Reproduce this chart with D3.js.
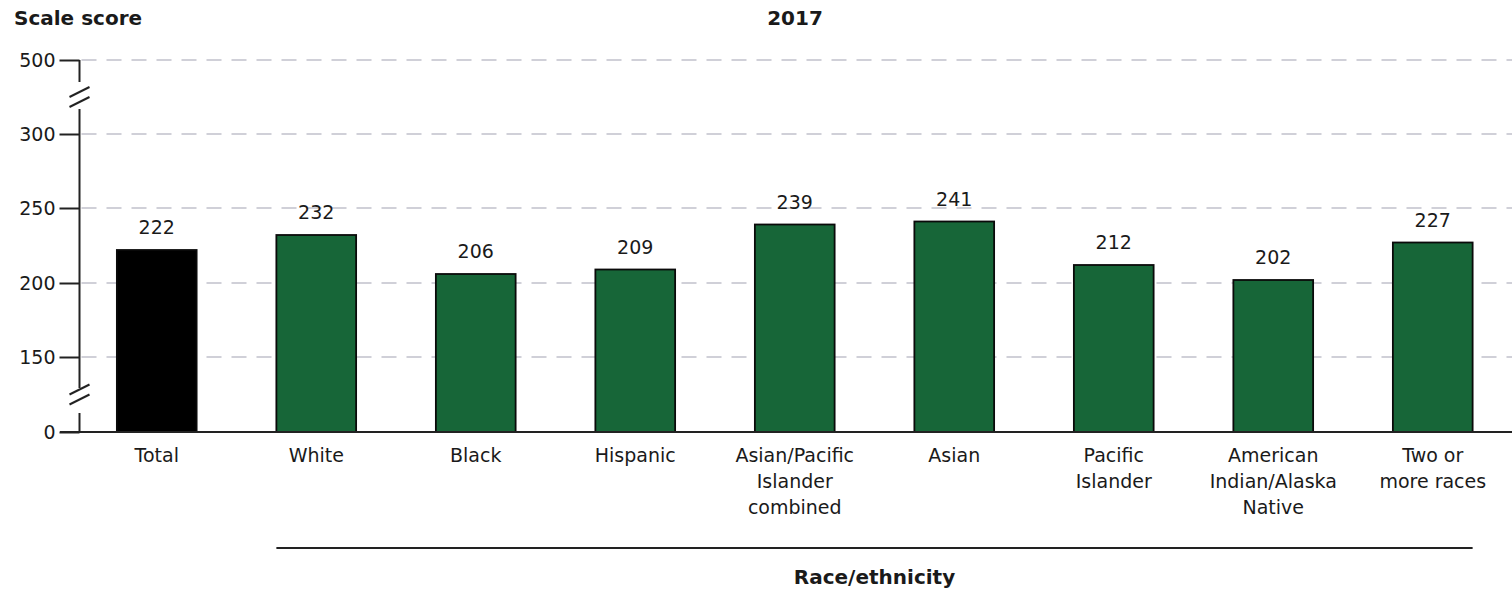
<!DOCTYPE html>
<html>
<head>
    <meta charset="utf-8">
    <script src="https://d3js.org/d3.v7.min.js"></script>
    <style>
        html, body { margin: 0; padding: 0; background: #fff; }
        text { font-family: "DejaVu Sans", sans-serif; fill: #1a1a1a; }
        .bold { font-weight: bold; }
    </style>
</head>
<body>
<div id="chart"></div>
<script>
    // chart data
    const categories = ["Total", "White", "Black", "Hispanic", "Asian/Pacific Islander combined",
        "Asian", "Pacific Islander", "American Indian/Alaska Native", "Two or more races"];
    const labelLines = [["Total"], ["White"], ["Black"], ["Hispanic"], ["Asian/Pacific", "Islander", "combined"],
        ["Asian"], ["Pacific", "Islander"], ["American", "Indian/Alaska", "Native"], ["Two or", "more races"]];
    const scores = [222, 232, 206, 209, 239, 241, 212, 202, 227];
    const tickValues = [0, 150, 200, 250, 300, 500];

    const width = 1512, height = 591;
    const svg = d3.select("#chart").append("svg")
        .attr("width", width)
        .attr("height", height);

    // broken axis: each tick gets an equal step
    const y = d3.scaleLinear()
        .domain(tickValues)
        .range([432, 357, 283, 208, 134, 60]);

    const x = d3.scaleBand()
        .domain(categories)
        .range([77, 1512.5])
        .paddingInner(0.5)
        .paddingOuter(0.25);

    const axisX = 79.5;

    // dashed grid lines
    svg.append("g")
        .selectAll("line")
        .data(tickValues.filter(d => d > 0))
        .join("line")
        .attr("x1", axisX)
        .attr("x2", width)
        .attr("y1", d => y(d))
        .attr("y2", d => y(d))
        .attr("stroke", "#d0d0d8")
        .attr("stroke-width", 2)
        .attr("stroke-dasharray", "15,10")
        .attr("stroke-dashoffset", -2);

    // bars
    svg.append("g")
        .selectAll("rect")
        .data(scores)
        .join("rect")
        .attr("x", (d, i) => x(categories[i]))
        .attr("y", d => y(d))
        .attr("width", x.bandwidth())
        .attr("height", d => y(0) - y(d))
        .attr("fill", (d, i) => i === 0 ? "#000" : "#176638")
        .attr("stroke", "#0a0a0a")
        .attr("stroke-width", 1.8);

    // value labels
    svg.append("g")
        .selectAll("text")
        .data(scores)
        .join("text")
        .attr("x", (d, i) => x(categories[i]) + x.bandwidth() / 2)
        .attr("y", d => y(d) - 16)
        .attr("text-anchor", "middle")
        .attr("font-size", 19)
        .text(d => d);

    // y axis
    const yAxis = d3.axisLeft(y).tickValues(tickValues).tickSize(20).tickPadding(4);
    const gy = svg.append("g")
        .attr("transform", `translate(${axisX},0)`)
        .call(yAxis);
    gy.select(".domain").remove();
    gy.selectAll(".tick line").attr("stroke", "#222").attr("stroke-width", 2);
    gy.selectAll(".tick text")
        .attr("font-size", 19)
        .attr("font-family", "DejaVu Sans")
        .attr("fill", "#1a1a1a");

    // axis line with breaks
    const breaks = [[300, 500], [0, 150]];
    const segs = [[y(500), 82], [109, 388], [413, y(0)]];
    svg.append("g")
        .selectAll("line")
        .data(segs)
        .join("line")
        .attr("x1", axisX).attr("x2", axisX)
        .attr("y1", d => d[0]).attr("y2", d => d[1])
        .attr("stroke", "#222").attr("stroke-width", 2);
    breaks.forEach(b => {
        const cy = (y(b[0]) + y(b[1])) / 2;
        [-5, 5].forEach(off => {
            svg.append("line")
                .attr("x1", axisX - 10).attr("x2", axisX + 10)
                .attr("y1", cy + off + 5).attr("y2", cy + off - 5)
                .attr("stroke", "#222").attr("stroke-width", 2);
        });
    });

    // baseline
    svg.append("line")
        .attr("x1", 60).attr("x2", width)
        .attr("y1", y(0)).attr("y2", y(0))
        .attr("stroke", "#222").attr("stroke-width", 2);

    // category labels
    const cat = svg.append("g")
        .selectAll("text")
        .data(categories)
        .join("text")
        .attr("x", d => x(d) + x.bandwidth() / 2)
        .attr("y", 462)
        .attr("text-anchor", "middle")
        .attr("font-size", 19);
    cat.each(function (d, i) {
        d3.select(this).selectAll("tspan")
            .data(labelLines[i])
            .join("tspan")
            .attr("x", x(d) + x.bandwidth() / 2)
            .attr("dy", (t, j) => j === 0 ? 0 : 26)
            .text(t => t);
    });

    // race/ethnicity bracket line
    svg.append("line")
        .attr("x1", x("White"))
        .attr("x2", x("Two or more races") + x.bandwidth())
        .attr("y1", 548).attr("y2", 548)
        .attr("stroke", "#222").attr("stroke-width", 2);

    svg.append("text")
        .attr("class", "bold")
        .attr("x", (x("White") + x("Two or more races") + x.bandwidth()) / 2)
        .attr("y", 584)
        .attr("text-anchor", "middle")
        .attr("font-size", 20)
        .text("Race/ethnicity");

    // titles
    svg.append("text")
        .attr("class", "bold")
        .attr("x", 14).attr("y", 25)
        .attr("font-size", 20)
        .text("Scale score");

    svg.append("text")
        .attr("class", "bold")
        .attr("x", 795).attr("y", 25)
        .attr("text-anchor", "middle")
        .attr("font-size", 20)
        .text("2017");
</script>
</body>
</html>
